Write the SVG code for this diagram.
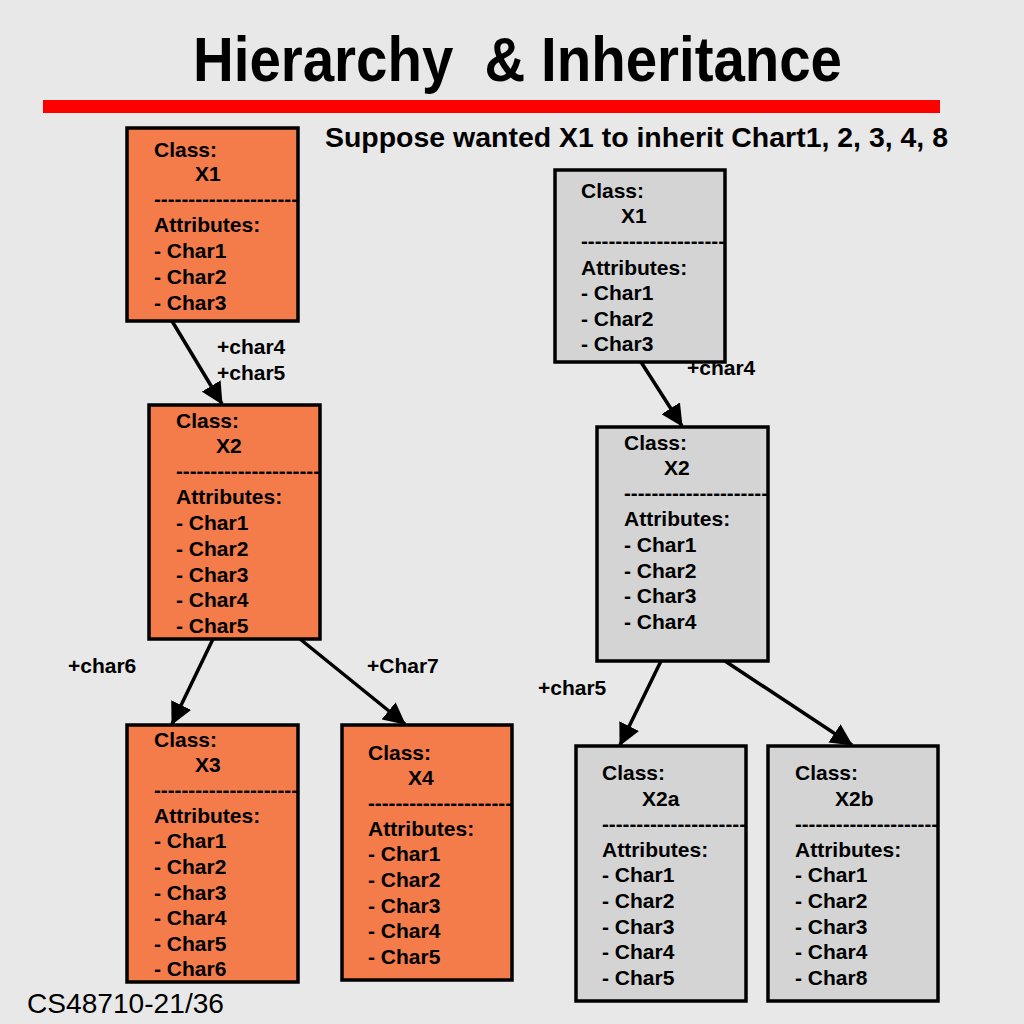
<svg xmlns="http://www.w3.org/2000/svg" width="1024" height="1024" viewBox="0 0 1024 1024">
<style>
.bg{fill:#e8e8e8}
.or{fill:#f47b4a;stroke:#000;stroke-width:3.5}
.gr{fill:#d4d4d4;stroke:#000;stroke-width:3.5}
.t{font-family:"Liberation Sans",Arial,sans-serif;font-weight:bold;font-size:21px;fill:#000}
.lbl{font-family:"Liberation Sans",Arial,sans-serif;font-weight:bold;font-size:21px;fill:#000}
.conn line{stroke:#000;stroke-width:3.5;marker-end:url(#ah)}
</style>
<defs>
<marker id="ah" markerUnits="userSpaceOnUse" viewBox="0 0 22 22" refX="21" refY="11" markerWidth="22" markerHeight="22" orient="auto">
<path d="M0,0 L22,11 L0,22 z" fill="#000"/>
</marker>
</defs>
<rect class="bg" x="0" y="0" width="1024" height="1024"/>
<text x="193" y="81" xml:space="preserve" style="white-space:pre" font-family="Liberation Sans,Arial,sans-serif" font-weight="bold" font-size="63" textLength="649" lengthAdjust="spacingAndGlyphs">Hierarchy  &amp; Inheritance</text>
<rect x="43" y="100" width="897" height="13" fill="#ff0000"/>
<text x="325" y="147" font-family="Liberation Sans,Arial,sans-serif" font-weight="bold" font-size="27" textLength="623" lengthAdjust="spacingAndGlyphs">Suppose wanted X1 to inherit Chart1, 2, 3, 4, 8</text>
<text x="27" y="1013" font-family="Liberation Sans,Arial,sans-serif" font-size="28" textLength="197" lengthAdjust="spacingAndGlyphs">CS48710-21/36</text>

<g id="connectors" class="conn">
<line x1="172" y1="321" x2="222" y2="404"/>
<line x1="213" y1="639" x2="172" y2="724"/>
<line x1="300" y1="639" x2="405" y2="724"/>
<line x1="641" y1="362" x2="682" y2="426"/>
<line x1="661" y1="661" x2="620" y2="745"/>
<line x1="725" y1="661" x2="852" y2="745"/>
</g>
<g id="labels">
<text class="lbl" x="217" y="354">+char4</text>
<text class="lbl" x="217" y="380">+char5</text>
<text class="lbl" x="68" y="673">+char6</text>
<text class="lbl" x="367" y="673">+Char7</text>
<text class="lbl" x="687" y="375">+char4</text>
<text class="lbl" x="538" y="695">+char5</text>
</g>

<g id="oX1">
<rect class="or" x="127" y="128" width="171" height="193"/>
<text class="t" x="154" y="157">Class:</text>
<text class="t" x="195" y="181">X1</text>
<text class="t" x="154" y="206" textLength="144" lengthAdjust="spacingAndGlyphs">---------------------</text>
<text class="t" x="154" y="232">Attributes:</text>
<text class="t" x="154" y="258">- Char1</text>
<text class="t" x="154" y="284">- Char2</text>
<text class="t" x="154" y="310">- Char3</text>
</g>
<g id="oX2">
<rect class="or" x="149" y="405" width="171" height="234"/>
<text class="t" x="176" y="428">Class:</text>
<text class="t" x="216" y="453">X2</text>
<text class="t" x="176" y="478" textLength="144" lengthAdjust="spacingAndGlyphs">---------------------</text>
<text class="t" x="176" y="504">Attributes:</text>
<text class="t" x="176" y="530">- Char1</text>
<text class="t" x="176" y="556">- Char2</text>
<text class="t" x="176" y="582">- Char3</text>
<text class="t" x="176" y="607">- Char4</text>
<text class="t" x="176" y="633">- Char5</text>
</g>
<g id="oX3">
<rect class="or" x="127" y="725" width="171" height="257"/>
<text class="t" x="154" y="747">Class:</text>
<text class="t" x="195" y="772">X3</text>
<text class="t" x="154" y="797" textLength="144" lengthAdjust="spacingAndGlyphs">---------------------</text>
<text class="t" x="154" y="823">Attributes:</text>
<text class="t" x="154" y="848">- Char1</text>
<text class="t" x="154" y="874">- Char2</text>
<text class="t" x="154" y="900">- Char3</text>
<text class="t" x="154" y="925">- Char4</text>
<text class="t" x="154" y="951">- Char5</text>
<text class="t" x="154" y="976">- Char6</text>
</g>
<g id="oX4">
<rect class="or" x="342" y="725" width="170" height="255"/>
<text class="t" x="368" y="760">Class:</text>
<text class="t" x="408" y="785">X4</text>
<text class="t" x="368" y="810" textLength="144" lengthAdjust="spacingAndGlyphs">---------------------</text>
<text class="t" x="368" y="836">Attributes:</text>
<text class="t" x="368" y="861">- Char1</text>
<text class="t" x="368" y="887">- Char2</text>
<text class="t" x="368" y="913">- Char3</text>
<text class="t" x="368" y="938">- Char4</text>
<text class="t" x="368" y="964">- Char5</text>
</g>

<g id="gX1">
<rect class="gr" x="555" y="170" width="170" height="192"/>
<text class="t" x="581" y="198">Class:</text>
<text class="t" x="621" y="223">X1</text>
<text class="t" x="581" y="248" textLength="144" lengthAdjust="spacingAndGlyphs">---------------------</text>
<text class="t" x="581" y="275">Attributes:</text>
<text class="t" x="581" y="300">- Char1</text>
<text class="t" x="581" y="326">- Char2</text>
<text class="t" x="581" y="351">- Char3</text>
</g>
<g id="gX2">
<rect class="gr" x="597" y="427" width="171" height="234"/>
<text class="t" x="624" y="450">Class:</text>
<text class="t" x="664" y="475">X2</text>
<text class="t" x="624" y="500" textLength="144" lengthAdjust="spacingAndGlyphs">---------------------</text>
<text class="t" x="624" y="526">Attributes:</text>
<text class="t" x="624" y="552">- Char1</text>
<text class="t" x="624" y="578">- Char2</text>
<text class="t" x="624" y="603">- Char3</text>
<text class="t" x="624" y="629">- Char4</text>
</g>
<g id="gX2a">
<rect class="gr" x="576" y="746" width="170" height="255"/>
<text class="t" x="602" y="780">Class:</text>
<text class="t" x="642" y="806">X2a</text>
<text class="t" x="602" y="831" textLength="144" lengthAdjust="spacingAndGlyphs">---------------------</text>
<text class="t" x="602" y="857">Attributes:</text>
<text class="t" x="602" y="882">- Char1</text>
<text class="t" x="602" y="908">- Char2</text>
<text class="t" x="602" y="934">- Char3</text>
<text class="t" x="602" y="959">- Char4</text>
<text class="t" x="602" y="985">- Char5</text>
</g>
<g id="gX2b">
<rect class="gr" x="768" y="746" width="170" height="255"/>
<text class="t" x="795" y="780">Class:</text>
<text class="t" x="835" y="806">X2b</text>
<text class="t" x="795" y="831" textLength="143" lengthAdjust="spacingAndGlyphs">---------------------</text>
<text class="t" x="795" y="857">Attributes:</text>
<text class="t" x="795" y="882">- Char1</text>
<text class="t" x="795" y="908">- Char2</text>
<text class="t" x="795" y="934">- Char3</text>
<text class="t" x="795" y="959">- Char4</text>
<text class="t" x="795" y="985">- Char8</text>
</g>
</svg>
